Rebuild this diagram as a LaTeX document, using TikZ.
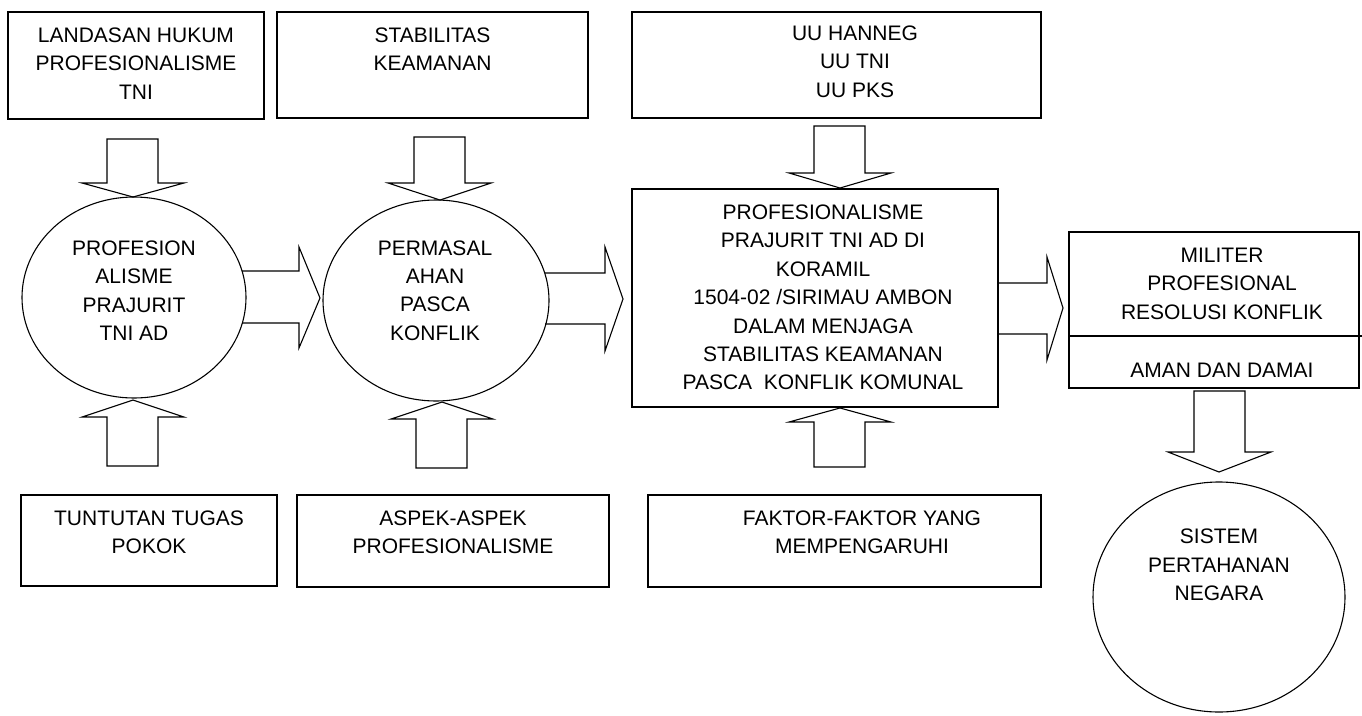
\documentclass[tikz,border=0pt]{standalone}
\usepackage{fontspec}
\setmainfont{Liberation Sans}
\usetikzlibrary{shapes.geometric}
\begin{document}
\begin{tikzpicture}[x=1pt,y=-1pt,
  every node/.style={inner sep=0pt, outer sep=0pt},
  box/.style={draw, line width=1.3pt, rectangle},
  oval/.style={draw, line width=1.1pt, ellipse},
  txt/.style={align=center, font=\fontsize{21}{28.4}\selectfont},
  barrow/.style={draw, line width=1.1pt, line join=miter}]
\useasboundingbox (0,0) rectangle (1362,715);

% top boxes
\node[box, minimum width=256pt, minimum height=107pt] (b1) at (136,65.5) {};
\node[txt] (t1) at (136,63.5) {LANDASAN HUKUM\\PROFESIONALISME\\TNI};
\node[box, minimum width=311pt, minimum height=106pt] (b2) at (432.5,65) {};
\node[txt] (t2) at (432.5,49) {STABILITAS\\KEAMANAN};
\node[box, minimum width=409pt, minimum height=106pt] (b3) at (836.5,65) {};
\node[txt] (t3) at (855,61.5) {UU HANNEG\\UU TNI\\UU PKS};

% circles
\node[oval, minimum width=224pt, minimum height=201pt] (c1) at (134,297.5) {};
\node[txt] (tc1) at (134,290.5) {PROFESION\\ALISME\\PRAJURIT\\TNI AD};
\node[oval, minimum width=226pt, minimum height=201pt] (c2) at (436,300.5) {};
\node[txt] (tc2) at (435,290.5) {PERMASAL\\AHAN\\PASCA\\KONFLIK};

% middle box
\node[box, minimum width=366pt, minimum height=218pt] (m) at (815,298) {};
\node[txt] (tm) at (823,297.5) {PROFESIONALISME\\PRAJURIT TNI AD DI\\KORAMIL\\1504-02 /SIRIMAU AMBON\\DALAM MENJAGA\\STABILITAS KEAMANAN\\PASCA\ \ KONFLIK KOMUNAL};

% right box
\node[box, minimum width=290pt, minimum height=156pt] (r) at (1214,310) {};
\coordinate (rdl) at (1069,336);
\coordinate (rdr) at (1362,336);
\draw[line width=1.3pt] (rdl) -- (rdr);
\node[txt] (tr1) at (1222,283.5) {MILITER\\PROFESIONAL\\RESOLUSI KONFLIK};
\node[txt] (tr2) at (1222,370) {AMAN DAN DAMAI};

% bottom right circle
\node[oval, minimum width=252pt, minimum height=230pt] (c3) at (1219,597) {};
\node[txt] (tc3) at (1219,565) {SISTEM\\PERTAHANAN\\NEGARA};

% bottom boxes
\node[box, minimum width=256pt, minimum height=91pt] (bA) at (149,540.5) {};
\node[txt] (tA) at (149,532.5) {TUNTUTAN TUGAS\\POKOK};
\node[box, minimum width=312pt, minimum height=92pt] (bB) at (453,541) {};
\node[txt] (tB) at (453,532.5) {ASPEK-ASPEK\\PROFESIONALISME};
\node[box, minimum width=393pt, minimum height=92pt] (bC) at (844.5,541) {};
\node[txt] (tC) at (862,532.5) {FAKTOR-FAKTOR YANG\\MEMPENGARUHI};

% down arrows
\draw[barrow] (107,139) -- (158,139) -- (158,183) -- (184,183) -- (133,197) -- (82,183) -- (107,183) -- cycle;
\draw[barrow] (414,137) -- (465,137) -- (465,183) -- (491,183) -- (440,200) -- (388,183) -- (414,183) -- cycle;
\draw[barrow] (814,126) -- (865,126) -- (865,173) -- (891,173) -- (840,188) -- (789,173) -- (814,173) -- cycle;
\draw[barrow] (1194,391) -- (1245,391) -- (1245,452) -- (1271,452) -- (1219,472) -- (1168,452) -- (1194,452) -- cycle;

% up arrows
\draw[barrow] (107,466) -- (158,466) -- (158,417) -- (184,417) -- (133,400) -- (82,417) -- (107,417) -- cycle;
\draw[barrow] (416,468) -- (467,468) -- (467,419) -- (493,419) -- (442,402) -- (391,419) -- (416,419) -- cycle;
\draw[barrow] (814,467) -- (865,467) -- (865,422) -- (891,422) -- (840,408) -- (789,422) -- (814,422) -- cycle;

% right arrows
\draw[barrow] (242,271) -- (299,271) -- (299,247) -- (320,298) -- (299,348) -- (299,323) -- (242,323);
\draw[barrow] (545,273) -- (605,273) -- (605,247) -- (623,299) -- (605,351) -- (605,324) -- (545,324);
\draw[barrow] (998,283) -- (1047,283) -- (1047,257) -- (1063,308) -- (1047,360) -- (1047,334) -- (998,334);
\end{tikzpicture}
\end{document}
